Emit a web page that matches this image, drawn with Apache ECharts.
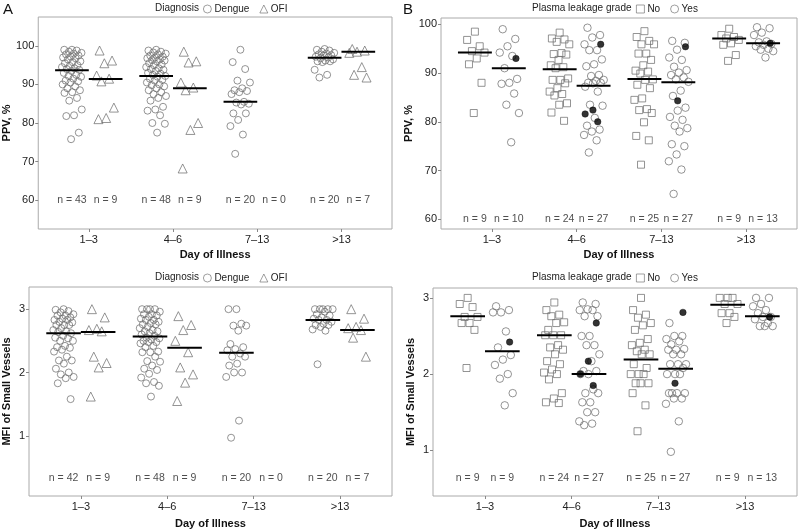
<!DOCTYPE html>
<html><head><meta charset="utf-8">
<script src="https://cdn.jsdelivr.net/npm/echarts@6/dist/echarts.min.js"></script>
<style>html,body{margin:0;padding:0;background:#fff}#c{width:800px;height:530px}</style>
</head><body><div id="c"></div>
<script>
const categories = ['1–3', '4–6', '7–13', '>13'];

// Panel A (top): PPV by diagnosis
const ppvDengue = [
  [99,99,98.8,98.5,98.2,98,97.8,97.5,97.2,97,96.8,96.5,96,95.8,95.5,95,94.8,94.5,94.2,94,93.8,93.5,93,92.5,92.2,92,91.5,91,90.8,90.5,90,89.5,89,88.5,88,87.8,86.5,85.8,83.5,82,81.8,77.5,75.8],
  [99,98.8,98.5,98.3,98,97.8,97.5,97.2,97,96.8,96.5,96.3,96.2,96,95.5,95.2,95,94.5,94.2,94,93.8,93.5,93,92.8,92.5,92.2,92,91.5,91.2,91,90.5,90,89.8,89.5,89,88.5,88,87.5,87,86.5,85.8,84.2,83.5,83.2,82,80,79.8,77.5],
  [99,95.8,94,91,90.5,89,88.5,88.3,88,87.5,85.5,85.3,85,84.8,82.5,82.5,80.8,79.2,77,72],
  [99.2,99,98.8,98.5,98.2,98,97.8,97.6,97.5,97.2,97,96.8,96.5,96.2,96,96,95.8,93.8,92.5,91.8]
];
const ppvOFI = [
  [98.8,96.2,95.5,92.3,91.5,90.8,84,81.3,81],
  [98.5,96,95.7,90.5,89.2,88.5,80,78.2,68.2],
  [],
  [99.2,98.8,98.5,98.2,94.5,92.5,91.8]
];
const ppvDengueMean = [93.7, 92.2, 85.5, 96.9];
const ppvOFIMean = [91.4, 89.0, null, 98.5];
const ppvDengueN = [43, 48, 20, 20];
const ppvOFIN = [9, 9, 0, 7];

// Panel A (bottom): MFI by diagnosis
const mfiDengue = [
  [3,2.99,2.97,2.95,2.92,2.9,2.9,2.87,2.85,2.83,2.83,2.8,2.79,2.75,2.75,2.75,2.7,2.67,2.65,2.64,2.62,2.58,2.55,2.54,2.5,2.5,2.42,2.4,2.39,2.36,2.33,2.25,2.19,2.19,2.14,2.06,2.0,1.97,1.93,1.91,1.83,1.58],
  [3,3,3,3,2.96,2.92,2.92,2.9,2.88,2.85,2.83,2.83,2.8,2.78,2.76,2.76,2.72,2.7,2.67,2.65,2.65,2.62,2.6,2.58,2.55,2.54,2.52,2.5,2.48,2.48,2.46,2.42,2.4,2.33,2.32,2.32,2.25,2.18,2.17,2.11,2.06,2.04,1.98,1.92,1.85,1.83,1.79,1.62],
  [3,3,2.77,2.74,2.74,2.66,2.45,2.4,2.37,2.35,2.3,2.25,2.25,2.14,2.11,2,2,1.93,1.24,0.97],
  [3,3,3,3,3,2.96,2.92,2.9,2.87,2.85,2.83,2.83,2.8,2.77,2.75,2.75,2.72,2.68,2.66,2.13]
];
const mfiOFI = [
  [3,2.87,2.69,2.67,2.65,2.25,2.15,2.08,1.62],
  [2.89,2.75,2.67,2.5,2.32,2.08,1.97,1.84,1.55],
  [],
  [3,2.85,2.72,2.7,2.67,2.55,2.25]
];
const mfiDengueMean = [2.62, 2.57, 2.31, 2.83];
const mfiOFIMean = [2.64, 2.39, null, 2.67];
const mfiDengueN = [42, 48, 20, 20];
const mfiOFIN = [9, 9, 0, 7];

// Panel B (top): PPV by plasma leakage
const ppvNo = [
  [98.5,96.8,95.5,94.5,94.2,93,91.8,88,81.8],
  [98.3,97.1,96.9,96.4,95.9,94.1,93.9,93.8,92.7,91.6,91.2,91,88.9,88.6,88.6,87.9,86.9,86.2,85.7,85.4,83.8,83.5,81.9,80.2],
  [98.6,97.4,96.6,95.9,95.9,94,94,92.7,91.6,90.5,90.3,89.9,88.7,88.6,87.6,86.9,84.8,84.5,82.6,82.4,81.8,79.9,77.1,76.2,71.2],
  [99.1,97.8,97.4,97.1,96.8,96.1,95.8,93.7,92.5]
];
const ppvYes = [
  [99,97,95.5,94.2,93.5,91,88.8,88,87.8,85.8,83.5,81.8,75.8],
  [99.3,97.8,97.3,95.9,94.7,94.7,92.8,91.8,91.4,89.6,89.4,88.6,88.4,88,88,87.9,87.2,86.2,83.5,83.3,80.8,79.2,78.4,78,77.3,76.2,73.7],
  [96.6,96.2,94.8,93.2,92.7,91.3,90.6,90.1,89.6,89.1,88.7,88.2,86.4,85.3,82.9,82.3,81,80.4,79.2,78.7,78,75.4,75,73.3,71.9,70.2,65.2],
  [99.4,99.2,98.3,97.8,96.5,96.3,96,95.8,95.5,95,94.8,94.5,93.2]
];
const ppvYesFilled = [[93], [95.9,82.4,81.6,80], [95.4,84.3], [96.1]];
const ppvNoMean = [94.2, 90.8, 88.8, 97.1];
const ppvYesMean = [91.0, 87.4, 88.1, 96.1];
const ppvNoN = [9, 24, 25, 9];
const ppvYesN = [10, 27, 27, 13];

// Panel B (bottom): MFI by plasma leakage
const mfiNo = [
  [3,2.92,2.88,2.75,2.75,2.67,2.67,2.58,2.08],
  [2.94,2.84,2.78,2.76,2.68,2.67,2.58,2.51,2.51,2.51,2.38,2.35,2.32,2.26,2.17,2.13,2.06,2.02,2,1.93,1.75,1.68,1.63,1.62],
  [3,2.84,2.78,2.74,2.67,2.64,2.58,2.46,2.41,2.38,2.32,2.3,2.26,2.26,2.13,2.08,2,2,2,1.88,1.88,1.88,1.75,1.59,1.25],
  [3,3,3,2.92,2.92,2.8,2.8,2.75,2.67]
];
const mfiYes = [
  [2.89,2.84,2.81,2.81,2.56,2.35,2.25,2.19,2.12,2,1.94,1.75,1.59],
  [2.94,2.92,2.85,2.84,2.84,2.76,2.76,2.5,2.5,2.38,2.38,2.26,2.17,2.04,2.04,2,2,1.8,1.75,1.75,1.63,1.63,1.5,1.5,1.38,1.35,1.33],
  [2.67,2.5,2.5,2.46,2.43,2.39,2.33,2.32,2.32,2.26,2.26,2.13,2.13,2.13,2.08,2,2,2,1.75,1.75,1.75,1.75,1.68,1.68,1.61,1.38,0.98],
  [3,3,2.92,2.89,2.84,2.8,2.75,2.75,2.72,2.67,2.63,2.63,2.63]
];
const mfiYesFilled = [[2.42], [2.67,2.17,2.0,1.85], [2.81,1.88], [2.75]];
const mfiNoMean = [2.76, 2.51, 2.19, 2.91];
const mfiYesMean = [2.30, 2.0, 2.07, 2.76];
const mfiNoN = [9, 24, 25, 9];
const mfiYesN = [9, 27, 27, 13];

// ---------- drawing ----------
const FONT = '"Liberation Sans", Arial, Helvetica, sans-serif';
const STROKE = '#6a6a6a';
const DODGE = 0.2, JIT = 0.12;
function spread(i, seed) { const f = (i * 0.6180339887 + seed) % 1; return (f - 0.5) * 2 * JIT; }

const grids = [
  {left: 36, top: 17, width: 356, height: 212},
  {left: 29, top: 287, width: 363, height: 212},
  {left: 441, top: 18, width: 356, height: 211},
  {left: 433, top: 288, width: 364, height: 211}
];
const yCfg = [
  {min: 52.5, max: 107.5, ticks: [60,70,80,90,100], name: 'PPV, %', gap: 24, xgap: 20},
  {min: 0.05, max: 3.35, ticks: [1,2,3], name: 'MFI of Small Vessels', gap: 17, xgap: 22},
  {min: 58, max: 101.3, ticks: [60,70,80,90,100], name: 'PPV, %', gap: 26, xgap: 20},
  {min: 0.4, max: 3.13, ticks: [1,2,3], name: 'MFI of Small Vessels', gap: 17, xgap: 22}
];
const panels = [
  {L: ppvDengue, R: ppvOFI, Lm: ppvDengueMean, Rm: ppvOFIMean, Ln: ppvDengueN, Rn: ppvOFIN, Lname: 'Dengue', Rname: 'OFI', Lsym: 'circle', Rsym: 'triangle', Lsz: 7, Rsz: 9, F: null, nY: 60},
  {L: mfiDengue, R: mfiOFI, Lm: mfiDengueMean, Rm: mfiOFIMean, Ln: mfiDengueN, Rn: mfiOFIN, Lname: 'Dengue', Rname: 'OFI', Lsym: 'circle', Rsym: 'triangle', Lsz: 7, Rsz: 9, F: null, nY: 0.33},
  {L: ppvNo, R: ppvYes, Lm: ppvNoMean, Rm: ppvYesMean, Ln: ppvNoN, Rn: ppvYesN, Lname: 'No', Rname: 'Yes', Lsym: 'rect', Rsym: 'circle', Lsz: 7, Rsz: 7.5, F: ppvYesFilled, nY: 60},
  {L: mfiNo, R: mfiYes, Lm: mfiNoMean, Rm: mfiYesMean, Ln: mfiNoN, Rn: mfiYesN, Lname: 'No', Rname: 'Yes', Lsym: 'rect', Rsym: 'circle', Lsz: 7, Rsz: 7.5, F: mfiYesFilled, nY: 0.63}
];

const xAxes = [], yAxes = [], series = [];
grids.forEach((g, k) => {
  const y = yCfg[k];
  xAxes.push({
    type: 'value', gridIndex: k, min: 0.4, max: 4.6,
    splitLine: {show: false}, axisLine: {show: false},
    axisTick: {show: true, customValues: [1,2,3,4], length: 3, lineStyle: {color: '#888'}},
    axisLabel: {customValues: [1,2,3,4], formatter: v => categories[Math.round(v) - 1], color: '#222', fontSize: 11, fontFamily: FONT, margin: 5},
    name: 'Day of Illness', nameLocation: 'middle', nameGap: y.xgap,
    nameTextStyle: {fontWeight: 'bold', fontSize: 11, color: '#111', fontFamily: FONT}
  });
  yAxes.push({
    type: 'value', gridIndex: k, min: y.min, max: y.max,
    splitLine: {show: false}, axisLine: {show: false},
    axisTick: {show: true, customValues: y.ticks, length: 3, lineStyle: {color: '#888'}},
    axisLabel: {customValues: y.ticks, color: '#222', fontSize: 11, fontFamily: FONT, margin: 4},
    name: y.name, nameLocation: 'middle', nameGap: y.gap, nameRotate: 90,
    nameTextStyle: {fontWeight: 'bold', fontSize: 11, color: '#111', fontFamily: FONT}
  });
  const p = panels[k];
  const Ldata = [], Rdata = [], Fdata = [], nData = [];
  for (let c = 0; c < 4; c++) {
    const cx = c + 1;
    p.L[c].forEach((v, i) => Ldata.push([cx - DODGE + spread(i, 0.5), v]));
    p.R[c].forEach((v, i) => Rdata.push([cx + DODGE + spread(i, 0.2), v]));
    if (p.F) p.F[c].forEach((v, i) => Fdata.push([cx + DODGE + spread(i, 0.85), v]));
    nData.push([cx - DODGE, p.nY, 'n = ' + p.Ln[c]]);
    nData.push([cx + DODGE, p.nY, 'n = ' + p.Rn[c]]);
    if (p.Lm[c] != null) series.push({type: 'line', xAxisIndex: k, yAxisIndex: k, data: [[cx - 2 * DODGE, p.Lm[c]], [cx, p.Lm[c]]], symbol: 'none', lineStyle: {color: '#000', width: 2}, z: 5, silent: true});
    if (p.Rm[c] != null) series.push({type: 'line', xAxisIndex: k, yAxisIndex: k, data: [[cx, p.Rm[c]], [cx + 2 * DODGE, p.Rm[c]]], symbol: 'none', lineStyle: {color: '#000', width: 2}, z: 5, silent: true});
  }
  series.push({type: 'scatter', name: p.Lname, xAxisIndex: k, yAxisIndex: k, data: Ldata, symbol: p.Lsym, symbolSize: p.Lsz,
    itemStyle: {color: 'rgba(255,255,255,0)', borderColor: STROKE, borderWidth: 0.9}, z: 3});
  series.push({type: 'scatter', name: p.Rname, xAxisIndex: k, yAxisIndex: k, data: Rdata, symbol: p.Rsym, symbolSize: p.Rsz,
    itemStyle: {color: 'rgba(255,255,255,0)', borderColor: STROKE, borderWidth: 0.9}, z: 3});
  if (p.F) series.push({type: 'scatter', name: 'filled', xAxisIndex: k, yAxisIndex: k, data: Fdata, symbol: 'circle', symbolSize: 6.5,
    itemStyle: {color: '#000', borderColor: '#000', borderWidth: 0.5}, z: 6});
  series.push({type: 'scatter', xAxisIndex: k, yAxisIndex: k, data: nData, symbolSize: 1, silent: true,
    itemStyle: {color: 'rgba(0,0,0,0)'},
    label: {show: true, position: 'inside', formatter: q => q.data[2], color: '#222', fontSize: 10.5, fontFamily: FONT}, z: 4});
});

const legendBase = {orient: 'horizontal', itemWidth: 8, itemHeight: 8, itemGap: 10, padding: 0,
  itemStyle: {borderWidth: 0.8},
  textStyle: {fontSize: 10, color: '#222', fontFamily: FONT, padding: [0, 0, 0, -2]}, selectedMode: false};
const keyBox = (x, y) => ({type: 'rect', left: x, top: y, shape: {width: 10, height: 10}, style: {fill: '#f4f4f4', stroke: '#c8c8c8', lineWidth: 0.8}, z: -1});
const option = {
  animation: false,
  backgroundColor: '#fff',
  grid: grids.map(g => Object.assign({show: true, borderColor: '#aaaaaa', borderWidth: 1, backgroundColor: 'transparent'}, g)),
  xAxis: xAxes, yAxis: yAxes, series: series,
  legend: [
    Object.assign({}, legendBase, {data: ['Dengue', 'OFI'], left: 203, top: 4}),
    Object.assign({}, legendBase, {data: ['Dengue', 'OFI'], left: 203, top: 273}),
    Object.assign({}, legendBase, {data: ['No', 'Yes'], left: 636, top: 4}),
    Object.assign({}, legendBase, {data: ['No', 'Yes'], left: 636, top: 273})
  ],
  graphic: [
    {type: 'text', left: 3, top: 2, style: {text: 'A', fontSize: 15, fill: '#111', fontFamily: FONT}},
    {type: 'text', left: 403, top: 2, style: {text: 'B', fontSize: 15, fill: '#111', fontFamily: FONT}},
    {type: 'text', left: 155, top: 3, style: {text: 'Diagnosis', fontSize: 10, fill: '#222', fontFamily: FONT}},
    {type: 'text', left: 155, top: 272, style: {text: 'Diagnosis', fontSize: 10, fill: '#222', fontFamily: FONT}},
    {type: 'text', left: 532, top: 3, style: {text: 'Plasma leakage grade', fontSize: 10, fill: '#222', fontFamily: FONT}},
    {type: 'text', left: 532, top: 272, style: {text: 'Plasma leakage grade', fontSize: 10, fill: '#222', fontFamily: FONT}}
  ]
};
const chart = echarts.init(document.getElementById('c'), null, {renderer: 'canvas'});
chart.setOption(option);
</script></body></html>
